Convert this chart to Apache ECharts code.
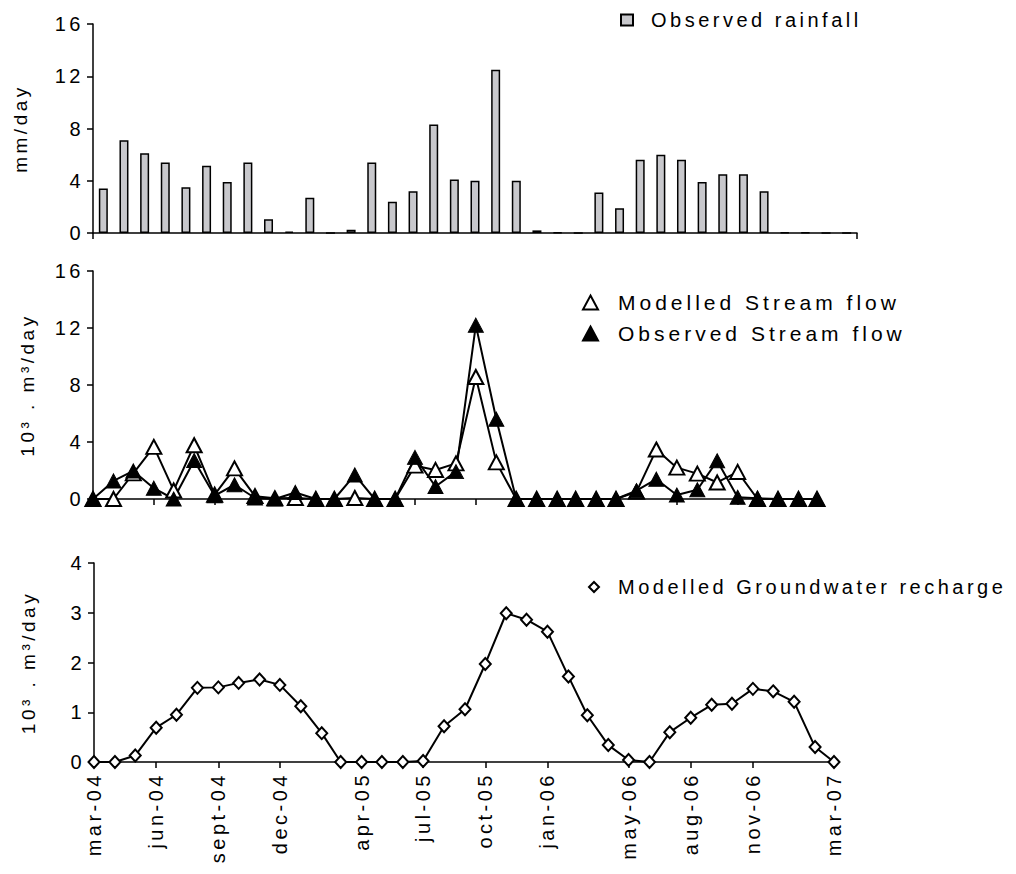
<!DOCTYPE html>
<html><head><meta charset="utf-8">
<script src="https://cdn.jsdelivr.net/npm/echarts@6/dist/echarts.min.js"></script>
<style>
html,body{margin:0;padding:0;background:#fff;}
#c{width:1016px;height:874px;}
#c text{letter-spacing:3.5px;}
#c text[style*="21px"]{letter-spacing:4px;}
</style></head><body><div id="c"></div>
<script>
// monthly dates (first of month), mar-04 .. mar-07
const months = ['2004-03-01','2004-04-01','2004-05-01','2004-06-01','2004-07-01','2004-08-01','2004-09-01','2004-10-01','2004-11-01','2004-12-01',
  '2005-01-01','2005-02-01','2005-03-01','2005-04-01','2005-05-01','2005-06-01','2005-07-01','2005-08-01','2005-09-01','2005-10-01','2005-11-01','2005-12-01',
  '2006-01-01','2006-02-01','2006-03-01','2006-04-01','2006-05-01','2006-06-01','2006-07-01','2006-08-01','2006-09-01','2006-10-01','2006-11-01','2006-12-01',
  '2007-01-01','2007-02-01','2007-03-01'];
// Observed rainfall (mm/day)
const rainfall = [3.4, 7.1, 6.1, 5.4, 3.5, 5.15, 3.9, 5.4, 1.05, 0.1, 2.7, 0, 0.25, 5.4, 2.4, 3.2, 8.3, 4.1, 4.0, 12.5, 4.0, 0.2, 0.05, 0,
  3.1, 1.9, 5.6, 6.0, 5.6, 3.9, 4.5, 4.5, 3.2, 0.05, 0.05, 0, 0];
// Modelled stream flow (10^3 m3/day)
const modelledFlow = [0, 0, 1.8, 3.66, 0.6, 3.77, 0.3, 2.15, 0.2, 0.05, 0.07, 0, 0, 0.07, 0, 0, 2.34, 2.04, 2.5, 8.56, 2.57, 0, 0, 0,
  0, 0, 0, 0.5, 3.47, 2.2, 1.78, 1.16, 1.9, 0, 0, 0, 0];
// Observed stream flow (10^3 m3/day)
const observedFlow = [0, 1.27, 1.97, 0.76, 0, 2.7, 0.23, 1.0, 0.07, 0, 0.46, 0, 0, 1.69, 0, 0, 2.92, 0.88, 1.92, 12.2, 5.6, 0, 0, 0,
  0, 0, 0, 0.58, 1.39, 0.28, 0.65, 2.68, 0.12, 0.05, 0, 0, 0];
// Modelled groundwater recharge (10^3 m3/day)
const recharge = [0, 0, 0.13, 0.69, 0.95, 1.49, 1.5, 1.59, 1.66, 1.55, 1.12, 0.58, 0, 0, 0, 0, 0.02, 0.72, 1.06, 1.97, 2.99, 2.86, 2.62, 1.72,
  0.94, 0.34, 0.04, 0, 0.6, 0.89, 1.15, 1.17, 1.47, 1.42, 1.21, 0.3, 0];
// x tick marks and labels
const tickDates = ['2004-03-01','2004-06-01','2004-09-01','2004-12-01','2005-04-01','2005-07-01','2005-10-01','2006-01-01','2006-05-01','2006-08-01','2006-11-01','2007-03-01'];
const tickLabels = ['mar-04','jun-04','sept-04','dec-04','apr-05','jul-05','oct-05','jan-06','may-06','aug-06','nov-06','mar-07'];

// day number since the first month (date axis in days)
function dayNo(s){ const p = s.split('-').map(Number); return Math.round((Date.UTC(p[0], p[1]-1, p[2]) - Date.UTC(2004, 2, 1)) / 86400000); }
const tickDays = tickDates.map(dayNo);
const labelMap = {};
tickDays.forEach((d,i)=>{ labelMap[d] = tickLabels[i]; });
const pairs = arr => arr.map((v,i)=>[dayNo(months[i]), v]);

const FONT = '"Liberation Sans", Arial, sans-serif';
const axisLine = {show:true, onZero:false, lineStyle:{color:'#000', width:1.5}};
const yTick = {show:true, inside:false, length:6, lineStyle:{color:'#000', width:1.5}};
const yLabel = {color:'#000', fontSize:20, fontFamily:FONT, margin:9};
const nameStyle = {color:'#000', fontSize:19, fontFamily:FONT};

function dateAxis(gridIndex, showLabels){
  return {
    type:'value', gridIndex, min: dayNo(months[0]), max: dayNo(months[months.length-1]),
    axisLine: axisLine, splitLine:{show:false},
    axisTick:{show:true, length:6, lineStyle:{color:'#000', width:1.5}, customValues: tickDays},
    axisLabel: showLabels ? {show:true, rotate:90, color:'#000', fontSize:20, fontFamily:FONT, margin:10,
       customValues: tickDays, formatter: v => labelMap[Math.round(v)] || ''} : {show:false},
    axisPointer:{show:false}
  };
}

const chart = echarts.init(document.getElementById('c'), null, {renderer:'svg'});
chart.setOption({
  animation:false,
  backgroundColor:'#fff',
  grid:[
    {left:93, top:24, width:764, height:209},
    {left:93, top:271, width:724, height:228},
    {left:94, top:563, width:740, height:199}
  ],
  xAxis:[
    {type:'category', gridIndex:0, data: months, boundaryGap:true,
      axisLine: axisLine, axisTick:{show:true, length:6, interval:(i)=>i===0, lineStyle:{color:'#000', width:1.5}},
      axisLabel:{show:false}, splitLine:{show:false}},
    dateAxis(1, false),
    dateAxis(2, true)
  ],
  yAxis:[
    {type:'value', gridIndex:0, min:0, max:16, interval:4, axisLine:axisLine, axisTick:yTick, axisLabel:yLabel,
      splitLine:{show:false}, name:'mm/day', nameLocation:'middle', nameGap:63, nameTextStyle:nameStyle},
    {type:'value', gridIndex:1, min:0, max:16, interval:4, axisLine:axisLine, axisTick:yTick, axisLabel:yLabel,
      splitLine:{show:false}, name:'10³ . m³/day', nameLocation:'middle', nameGap:56, nameTextStyle:nameStyle},
    {type:'value', gridIndex:2, min:0, max:4, interval:1, axisLine:axisLine, axisTick:yTick, axisLabel:yLabel,
      splitLine:{show:false}, name:'10³ . m³/day', nameLocation:'middle', nameGap:56, nameTextStyle:nameStyle}
  ],
  legend:[
    {data:[{name:'Observed rainfall', icon:'rect'}], left:620, top:10, padding:0, itemWidth:12, itemHeight:11,
      textStyle:{color:'#000', fontSize:20, fontFamily:FONT, padding:[0,0,0,13]}, selectedMode:false},
    {data:[{name:'Modelled Stream flow', icon:'triangle'},{name:'Observed Stream flow', icon:'triangle'}], orient:'vertical',
      left:582, top:292, padding:0, itemWidth:15, itemHeight:14, itemGap:10,
      textStyle:{color:'#000', fontSize:21, fontFamily:FONT, padding:[0,0,0,15]}, selectedMode:false},
    {data:[{name:'Modelled Groundwater recharge', icon:'diamond'}], left:588, top:577, padding:0, itemWidth:10, itemHeight:10,
      textStyle:{color:'#000', fontSize:20, fontFamily:FONT, padding:[0,0,0,14]}, selectedMode:false}
  ],
  series:[
    {name:'Observed rainfall', type:'bar', xAxisIndex:0, yAxisIndex:0, data: rainfall, barWidth:9,
      itemStyle:{color:'#c8c8cc', borderColor:'#000', borderWidth:1.5}},
    {name:'Modelled Stream flow', type:'line', xAxisIndex:1, yAxisIndex:1, data: pairs(modelledFlow),
      symbol:'triangle', symbolSize:[15,14], showAllSymbol:true,
      lineStyle:{color:'#000', width:2}, itemStyle:{color:'#fff', borderColor:'#000', borderWidth:2}},
    {name:'Observed Stream flow', type:'line', xAxisIndex:1, yAxisIndex:1, data: pairs(observedFlow),
      symbol:'triangle', symbolSize:[15,14], showAllSymbol:true,
      lineStyle:{color:'#000', width:2}, itemStyle:{color:'#000', borderColor:'#000', borderWidth:1}},
    {name:'Modelled Groundwater recharge', type:'line', xAxisIndex:2, yAxisIndex:2, data: pairs(recharge),
      symbol:'diamond', symbolSize:[11,12], showAllSymbol:true,
      lineStyle:{color:'#000', width:2}, itemStyle:{color:'#fff', borderColor:'#000', borderWidth:2}}
  ]
});
</script></body></html>
